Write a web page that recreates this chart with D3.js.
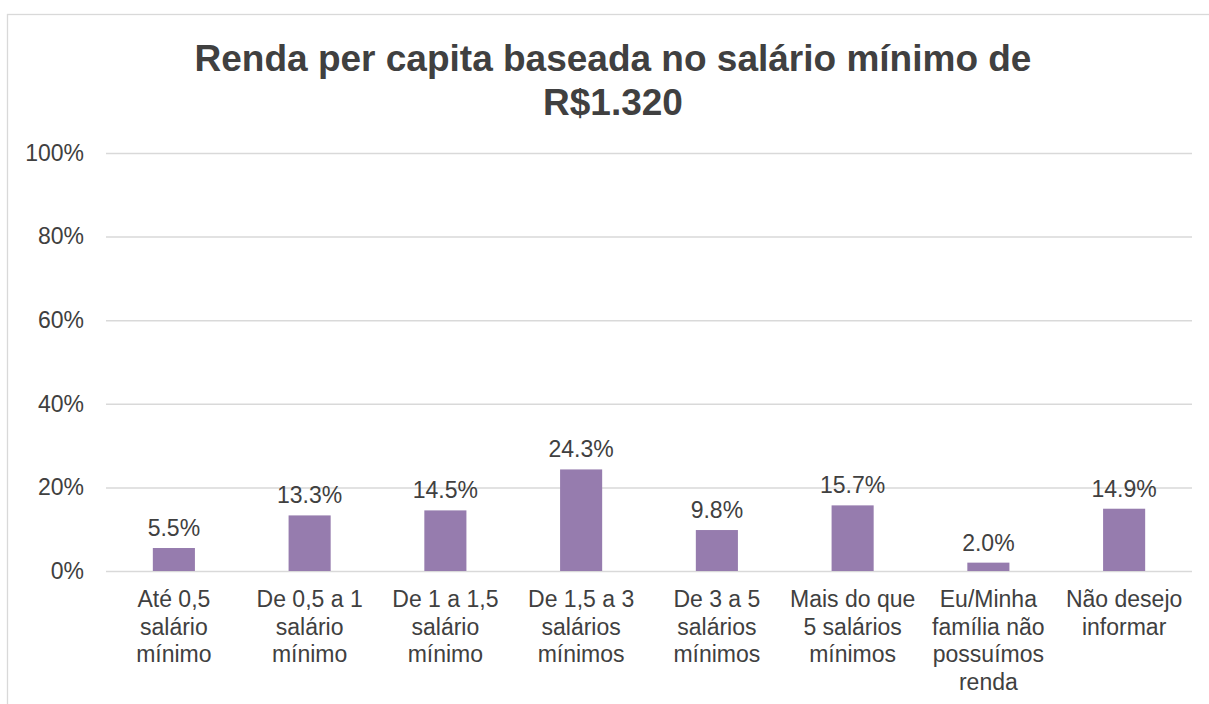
<!DOCTYPE html>
<html>
<head>
<meta charset="utf-8">
<script src="https://cdn.jsdelivr.net/npm/d3@7"></script>
<style>
  body { margin: 0; background: #fff; }
  svg { display: block; font-family: "Liberation Sans", Arial, sans-serif; }
</style>
</head>
<body>
<div class="chart"></div>
<script>
(function() {
  'use strict';

  // data
  var categories = [
    ["Até 0,5", "salário", "mínimo"],
    ["De 0,5 a 1", "salário", "mínimo"],
    ["De 1 a 1,5", "salário", "mínimo"],
    ["De 1,5 a 3", "salários", "mínimos"],
    ["De 3 a 5", "salários", "mínimos"],
    ["Mais do que", "5 salários", "mínimos"],
    ["Eu/Minha", "família não", "possuímos", "renda"],
    ["Não desejo", "informar"]
  ];
  var values = [5.5, 13.3, 14.5, 24.3, 9.8, 15.7, 2.0, 14.9];
  var yTicks = [0, 20, 40, 60, 80, 100];
  var titleLines = ["Renda per capita baseada no salário mínimo de", "R$1.320"];

  var width = 1209, height = 704;
  var left = 106, right = 1192, top = 153, bottom = 571;
  var textColor = "#404040";

  var svg = d3.select(".chart").append("svg")
    .attr("width", width).attr("height", height);

  // chart frame
  svg.append("rect")
    .attr("x", 7.5).attr("y", 14.5)
    .attr("width", 1220).attr("height", 720)
    .style("fill", "#fff").style("stroke", "#d9d9d9").style("stroke-width", 1.3);

  var x = d3.scaleBand()
    .domain(d3.range(categories.length))
    .range([left, right])
    .paddingInner(0.69).paddingOuter(0.345);

  var y = d3.scaleLinear().domain([0, 100]).range([bottom, top]);

  // title
  svg.append("text")
    .attr("x", 613).attr("y", 71)
    .attr("text-anchor", "middle")
    .style("font-size", "37px").style("font-weight", "bold").style("fill", textColor)
    .selectAll("tspan").data(titleLines).enter().append("tspan")
    .attr("x", 613).attr("dy", function(d, i) { return i ? 44 : 0; })
    .text(function(d) { return d; });

  // gridlines + y labels
  var yAxis = svg.append("g")
    .attr("transform", "translate(" + left + ",0)")
    .call(d3.axisLeft(y).tickValues(yTicks)
      .tickSize(-(right - left)).tickPadding(22)
      .tickFormat(function(d) { return d + "%"; }));
  yAxis.select(".domain").remove();
  yAxis.selectAll(".tick line").style("stroke", "#d9d9d9").style("stroke-width", 1.5);
  yAxis.selectAll(".tick text")
    .style("font-size", "23px").style("fill", textColor)
    .style("font-family", "'Liberation Sans', Arial, sans-serif");

  // bars
  svg.append("g").selectAll("rect").data(values).enter().append("rect")
    .attr("x", function(d, i) { return x(i); })
    .attr("y", function(d) { return y(d); })
    .attr("width", x.bandwidth())
    .attr("height", function(d) { return y(0) - y(d); })
    .style("fill", "#967cae");

  // data labels
  svg.append("g").selectAll("text").data(values).enter().append("text")
    .attr("x", function(d, i) { return x(i) + x.bandwidth() / 2; })
    .attr("y", function(d) { return y(d) - 12; })
    .attr("text-anchor", "middle")
    .style("font-size", "23px").style("fill", textColor)
    .text(function(d) { return d.toFixed(1) + "%"; });

  // category labels
  var cat = svg.append("g").selectAll("text").data(categories).enter().append("text")
    .attr("text-anchor", "middle")
    .style("font-size", "23px").style("fill", textColor)
    .attr("y", 607);
  cat.selectAll("tspan").data(function(d, i) {
      return d.map(function(t) { return { t: t, i: i }; });
    }).enter().append("tspan")
    .attr("x", function(d) { return x(d.i) + x.bandwidth() / 2; })
    .attr("dy", function(d, j) { return j ? 27.5 : 0; })
    .text(function(d) { return d.t; });
})();
</script>
</body>
</html>
